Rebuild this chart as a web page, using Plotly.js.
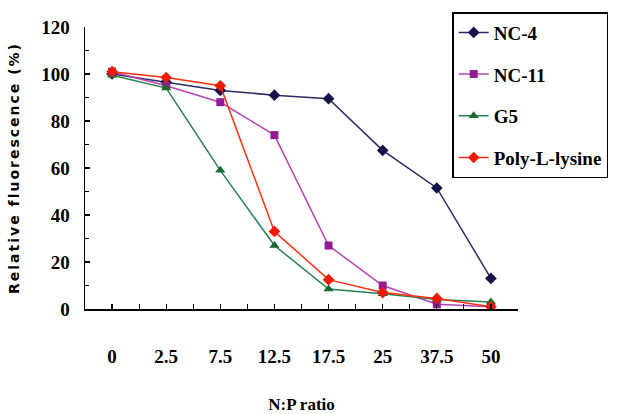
<!DOCTYPE html>
<html>
<head>
<meta charset="utf-8">
<script src="https://cdn.plot.ly/plotly-3.0.1.min.js"></script>
<style>
html,body{margin:0;padding:0;background:#fff;}
#chart{width:620px;height:414px;}
.ytitle{letter-spacing:2px;}
</style>
</head>
<body>
<div id="chart"></div>
<script>
const categories = ['0','2.5','7.5','12.5','17.5','25','37.5','50'];
const nc4   = [100, 96.5, 93, 91, 89.5, 67.5, 51.5, 13];
const nc11  = [101, 95, 88, 74, 27, 10, 2, 1];
const g5    = [99.5, 94, 59, 27, 8.5, 6.5, 4, 3];
const pll   = [101, 98.5, 95, 33, 12.5, 7, 4.5, 1];
const seriesNames = ['NC-4','NC-11','G5','Poly-L-lysine'];

const xi = categories.map((c,i)=>i);
const serif = '"Liberation Serif", "Times New Roman", serif';

function tr(name, y, lineColor, markerColor, symbol, size, grp){
  return {
    x: xi, y: y, name: name, type:'scatter', mode:'lines+markers',
    legendgroup: grp,
    line:{color:lineColor, width:1.5},
    marker:{color:markerColor, symbol:symbol, size:size, line:{width:0}}
  };
}

const data = [
  tr(seriesNames[0], nc4, '#2a2a66', '#14144a', 'diamond', 9, 'a'),
  tr(seriesNames[1], nc11, '#b444b4', '#921c92', 'square', 8, 'b'),
  tr(seriesNames[2], g5, '#2a8050', '#1a6a34', 'triangle-up', 9, 'c'),
  tr(seriesNames[3], pll, '#ff3010', '#ee1a00', 'diamond', 9, 'd')
];

const layout = {
  width:620, height:414,
  margin:{l:85, r:61, t:26, b:105},
  paper_bgcolor:'#fff', plot_bgcolor:'#fff',
  showlegend:true,
  legend:{
    x:0.848, y:1.053, xanchor:'left', yanchor:'top',
    bordercolor:'#000', borderwidth:1.5, bgcolor:'#fff',
    font:{family:serif, size:19, color:'#000', weight:'bold'},
    traceorder:'grouped', tracegroupgap:14, itemwidth:30
  },
  xaxis:{
    range:[-0.5,7.5], tickvals:xi, ticktext:categories,
    showgrid:false, zeroline:false,
    showline:true, linecolor:'#000', linewidth:1.5,
    ticks:'inside', ticklen:5, tickwidth:1.2, tickcolor:'#000',
    minor:{tick0:-0.5, dtick:1, ticks:'inside', ticklen:5, tickwidth:1.2, tickcolor:'#000'},
    ticklabelstandoff:30,
    tickfont:{family:serif, size:19, color:'#000', weight:'bold'},
    title:{text:'N:P ratio', standoff:40, font:{family:serif, size:17, color:'#000', weight:'bold'}}
  },
  yaxis:{
    range:[0,120], dtick:20, tick0:0,
    showgrid:false, zeroline:false,
    showline:true, linecolor:'#000', linewidth:1.5,
    ticks:'inside', ticklen:5, tickwidth:1.2, tickcolor:'#000',
    minor:{dtick:10, ticks:'inside', ticklen:4, tickwidth:1.2, tickcolor:'#000'},
    ticklabelstandoff:10,
    tickfont:{family:serif, size:19, color:'#000', weight:'bold'},
    title:{text:'Relative fluorescence (%)', standoff:18, font:{family:'"DejaVu Sans", sans-serif', size:14, color:'#000', weight:'bold'}}
  }
};

Plotly.newPlot('chart', data, layout, {displayModeBar:false, staticPlot:true});
</script>
</body>
</html>
